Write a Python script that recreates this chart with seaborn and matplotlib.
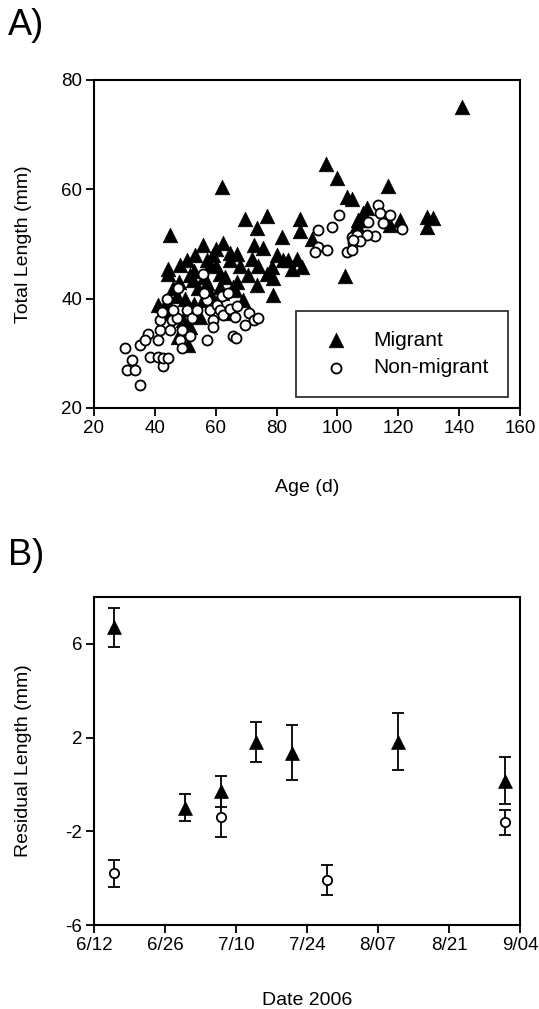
import numpy as np
import pandas as pd
import matplotlib
matplotlib.use("Agg")
import matplotlib.pyplot as plt
import seaborn as sns

# ---------------- Panel A data ----------------
migrant_age = [141, 62, 96.1, 100, 103.2, 116.5, 102.5, 129.3, 131.5, 129.3, 45,
               69.6, 76.8, 73.5, 87.7, 81.7, 87.7, 72.6, 75.6, 91.5, 71.8, 66.9, 83.9,
               86.6, 88.2, 85, 78.4, 76.8, 70.7, 73.5, 78.9, 78.9, 69.1, 65.8, 64.7, 106.9,
               104.7, 109.6, 108.5, 107.4, 106.3, 120.6, 117.3,
               55.9, 62.5, 59.2, 53.2, 50.5, 48.3, 44.4, 44.4, 51.5, 58.1, 61.4, 64.7,
               57.0, 54.3, 52.6, 61.4, 66.3, 47.2, 41.1, 43.9, 42.8, 51.5, 49.3, 55.9,
               51.5, 51.0, 47.7, 54.8, 64.7, 60.3,
               46, 48, 50, 53, 56, 58, 60, 63, 67, 60, 57, 45, 47, 53, 62, 68, 74, 80, 82]
migrant_len = [75, 60.5, 64.7, 62.0, 58.6, 60.7, 44.1, 55, 54.8, 53.2, 51.6,
               54.5, 55.1, 53.0, 54.5, 51.2, 52.3, 49.8, 49.2, 51.0, 47.3, 48.2, 47.0,
               47.2, 45.8, 45.5, 45.8, 44.6, 44.3, 42.5, 43.7, 40.6, 39.7, 42.2, 48.3, 54.3,
               58.3, 56.5, 55.6, 54.3, 53.4, 54.3, 53.4,
               49.8, 50.1, 47.9, 47.9, 47.0, 46.1, 45.5, 44.6, 44.3, 46.1, 44.6, 47.0,
               42.8, 41.9, 43.4, 42.2, 41.6, 40.4, 38.8, 39.5, 37.4, 38.2, 36.1, 39.7,
               34.9, 31.5, 33.0, 36.7, 37.3, 39.4,
               42, 43, 40, 45, 44, 41, 46, 44, 43, 49, 47, 38, 37, 39, 41, 46, 46, 48, 47]
nonmig_age = [35.1, 30.2, 30.7, 33.5, 32.4, 35.1, 37.8, 36.8, 38.4, 41.1, 42.8, 42.8,
              44.4, 41.1, 41.7, 41.7, 42.2, 45.5, 45.0, 47.2, 47.7, 48.8, 48.3, 48.8,
              51.5, 50.5, 52.1, 53.8, 55.9, 57.0, 58.1, 60.3, 59.2, 59.2, 61.4, 62.5,
              65.8, 57.0, 64.7, 66.3, 66.9, 70.9, 72.6, 69.6, 66.7, 73.9,
              100.6, 98.1, 93.7, 93.7, 92.6, 96.7, 103, 104.7, 105.2, 106.3,
              113.4, 114, 117.3, 115.1, 110.1, 121.1, 112.3, 109.6, 107.4, 105.2, 104.7,
              62, 64, 56, 46, 44]
nonmig_len = [24.2, 30.9, 26.9, 26.9, 28.8, 31.5, 33.6, 32.4, 29.4, 29.4, 27.6, 29.1,
              29.1, 32.4, 34.2, 36.1, 37.6, 36.1, 34.2, 36.4, 41.9, 34.2, 32.4, 30.9,
              33.1, 37.9, 36.4, 37.9, 44.6, 39.7, 37.9, 38.8, 36.1, 34.9, 37.9, 37.0,
              33.1, 32.4, 38.2, 36.7, 38.6, 37.4, 36.1, 35.2, 32.8, 36.4,
              55.3, 53.2, 52.5, 49.5, 48.6, 48.9, 48.6, 51.2, 50.1, 51.6,
              57.1, 55.6, 55.3, 53.8, 54.1, 52.7, 51.4, 51.7, 50.5, 50.8, 48.9,
              40.5, 41, 41, 38, 40]

# ---------------- Panel B data ----------------
b_mig_day = [4, 18, 25, 32, 39, 60, 81]          # days after 6/12
b_mig_val = [6.7, -1.0, -0.29, 1.81, 1.35, 1.83, 0.15]
b_mig_err = [0.83, 0.58, 0.66, 0.84, 1.18, 1.21, 1.0]
b_non_day = [4, 25, 46, 81]
b_non_val = [-3.8, -1.4, -4.07, -1.62]
b_non_err = [0.58, 0.86, 0.65, 0.53]
b_tick_days = [0, 14, 28, 42, 56, 70, 84]
b_tick_labels = ["6/12", "6/26", "7/10", "7/24", "8/07", "8/21", "9/04"]

sns.set_theme(style="white")
plt.rcParams["font.family"] = ["Liberation Sans", "DejaVu Sans"]
plt.rcParams["axes.unicode_minus"] = False
plt.rcParams["text.color"] = "black"
plt.rcParams["axes.labelcolor"] = "black"
plt.rcParams["xtick.color"] = "black"
plt.rcParams["ytick.color"] = "black"

W, H = 539, 1009
fig = plt.figure(figsize=(W / 100, H / 100), dpi=100)

def px_axes(l, t, r, b):
    return fig.add_axes([l / W, 1 - b / H, (r - l) / W, (b - t) / H])

axA = px_axes(94, 80, 520, 408)
axB = px_axes(94, 597, 520, 925)

tick_fs = 13.5
label_fs = 14

def style_axis(ax):
    for s in ax.spines.values():
        s.set_visible(True)
        s.set_color("black")
        s.set_linewidth(1.5)
    ax.tick_params(axis="both", which="both", direction="out", length=5.5, width=1.3,
                   colors="black", labelcolor="black", labelsize=tick_fs,
                   bottom=True, left=True, top=False, right=False, pad=3)
    ax.grid(False)

# Panel A
sns.scatterplot(x=migrant_age, y=migrant_len, ax=axA, marker="^", s=110,
                color="black", edgecolor="black", linewidth=0.5, label="Migrant")
sns.scatterplot(x=nonmig_age, y=nonmig_len, ax=axA, marker="o", s=52,
                color="white", edgecolor="black", linewidth=1.3, label="Non-migrant")
axA.set_xlim(20, 160)
axA.set_ylim(20, 80)
axA.set_xticks([20, 40, 60, 80, 100, 120, 140, 160])
axA.set_yticks([20, 40, 60, 80])
style_axis(axA)
axA.set_xlabel("Age (d)", fontsize=label_fs, color="black")
axA.set_ylabel("Total Length (mm)", fontsize=label_fs, color="black")
axA.xaxis.set_label_coords(0.5, -0.215)
axA.yaxis.set_label_coords(-0.145, 0.5)
leg = axA.legend(loc="lower right", bbox_to_anchor=(0.972, 0.034), fontsize=15,
                 frameon=True, fancybox=False, edgecolor="black", borderpad=0.95,
                 handletextpad=0.75, labelspacing=0.4, handlelength=2.0,
                 borderaxespad=0, labelcolor="black")
leg.get_frame().set_linewidth(1.3)

# Panel B
axB.errorbar(b_mig_day, b_mig_val, yerr=b_mig_err, fmt="none", ecolor="black",
             elinewidth=1.3, capsize=4.5, capthick=1.3)
axB.errorbar(b_non_day, b_non_val, yerr=b_non_err, fmt="none", ecolor="black",
             elinewidth=1.3, capsize=4.5, capthick=1.3)
sns.scatterplot(x=b_mig_day, y=b_mig_val, ax=axB, marker="^", s=100,
                color="black", edgecolor="black", linewidth=0.5, zorder=3)
sns.scatterplot(x=b_non_day, y=b_non_val, ax=axB, marker="o", s=45,
                color="white", edgecolor="black", linewidth=1.3, zorder=3)
axB.set_xlim(0, 84)
axB.set_ylim(-6, 8)
axB.set_xticks(b_tick_days)
axB.set_xticklabels(b_tick_labels)
axB.set_yticks([-6, -2, 2, 6])
style_axis(axB)
axB.set_xlabel("Date 2006", fontsize=label_fs, color="black")
axB.set_ylabel("Residual Length (mm)", fontsize=label_fs, color="black")
axB.xaxis.set_label_coords(0.5, -0.205)
axB.yaxis.set_label_coords(-0.145, 0.5)

fig.text(8 / W, 1 - 35 / H, "A)", fontsize=26, ha="left", va="baseline", color="black")
fig.text(8 / W, 1 - 565 / H, "B)", fontsize=26, ha="left", va="baseline", color="black")

fig.savefig("out.png", dpi=100)
